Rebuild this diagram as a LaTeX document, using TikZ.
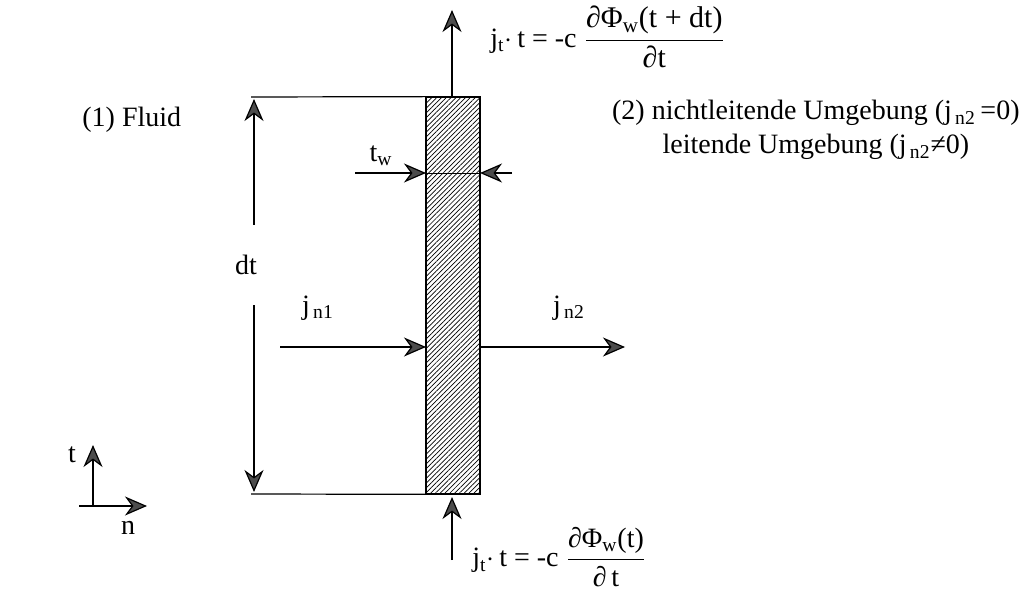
\documentclass[tikz,border=0pt]{standalone}
\usepackage{amsmath}
\usepackage{fontspec}
\setmainfont{Liberation Serif}
\usetikzlibrary{arrows.meta,patterns.meta}

\newcommand{\fsz}{\fontsize{14}{17}\selectfont}
\newcommand{\fszb}{\fontsize{15}{18}\selectfont}

\begin{document}
\begin{tikzpicture}[
  x=0.5pt, y=-0.5pt,
  txt/.style={inner sep=1pt, font=\fsz},
  wallbox/.style={draw, line width=0.6pt, inner sep=0pt,
    minimum width=27pt, minimum height=198.5pt,
    pattern={Lines[angle=45,distance=1.7pt,line width=0.35pt]}},
  flow/.style={->, line width=0.6pt},
  >={Stealth[length=11pt,width=9.5pt,inset=3.5pt,fill=black!70]}
]
  \useasboundingbox (0,0) rectangle (1027,592);

  % wall
  \node[wallbox] (wall) at (453,295.5) {};

  % dimension lines
  \coordinate (topL) at (251,97);
  \coordinate (botL) at (251,494);
  \draw[line width=0.6pt] (topL) -- (wall.north west);
  \draw[line width=0.6pt] (botL) -- (wall.south west);
  \coordinate (dtT) at (254,99);
  \coordinate (dtB) at (254,492);
  \node[txt, fill=white, minimum height=40pt] (dt) at (246,265) {dt};
  \draw[flow] (dt.north -| dtT) -- (dtT);
  \draw[flow] (dt.south -| dtB) -- (dtB);

  % wall thickness
  \coordinate (twL) at (426,173);
  \coordinate (twR) at (480,173);
  \coordinate (twA) at (355,173);
  \coordinate (twB) at (512,173);
  \draw[flow] (twA) -- (twL);
  \draw[flow] (twB) -- (twR);
  \draw[line width=0.4pt] (twL) -- (twR);
  \node[txt] (tw) at (381,156) {t\textsubscript{w}};

  % normal fluxes
  \coordinate (n1A) at (280,347);
  \coordinate (n1B) at (426,347);
  \coordinate (n2A) at (480,347);
  \coordinate (n2B) at (625,347);
  \draw[flow] (n1A) -- (n1B);
  \draw[flow] (n2A) -- (n2B);
  \node[txt] (jn1) at (318,308) {j\textsubscript{\,n1}};
  \node[txt] (jn2) at (569,308) {j\textsubscript{\,n2}};

  % tangential fluxes
  \coordinate (upT) at (452,10);
  \coordinate (upB) at (452,560);
  \coordinate (upW) at (452,497);
  \draw[flow] (wall.north -| upT) -- (upT);
  \draw[flow] (upB) -- (upW);
  \node[txt, anchor=west] (jtop) at (488,37)
    {j\textsubscript{t}$\cdot$\,t = -c $\dfrac{\text{\fszb ∂Φ\textsubscript{w}(t + dt)}}{\text{\fszb ∂t}}$};
  \node[txt, anchor=west] (jbot) at (470,557)
    {j\textsubscript{t}$\cdot$\,t = -c $\dfrac{\text{\fsz ∂Φ\textsubscript{w}(t)}}{\text{\fsz ∂\,t}}$};

  % regions
  \node[txt, anchor=west] (fluid) at (80,120) {(1) Fluid};
  \node[txt, align=center, anchor=east] (umg) at (1022,130)
    {(2) nichtleitende Umgebung (j\textsubscript{\,n2}\,=0)\\ leitende Umgebung (j\textsubscript{\,n2}≠0)};

  % axes
  \coordinate (org) at (93,506);
  \coordinate (axT) at (93,445);
  \coordinate (axN) at (147,506);
  \coordinate (axL) at (79,506);
  \draw[flow] (org) -- (axT);
  \draw[flow] (axL) -- (axN);
  \node[txt] (lt) at (72,455) {t};
  \node[txt] (ln) at (128,528) {n};
\end{tikzpicture}
\end{document}
